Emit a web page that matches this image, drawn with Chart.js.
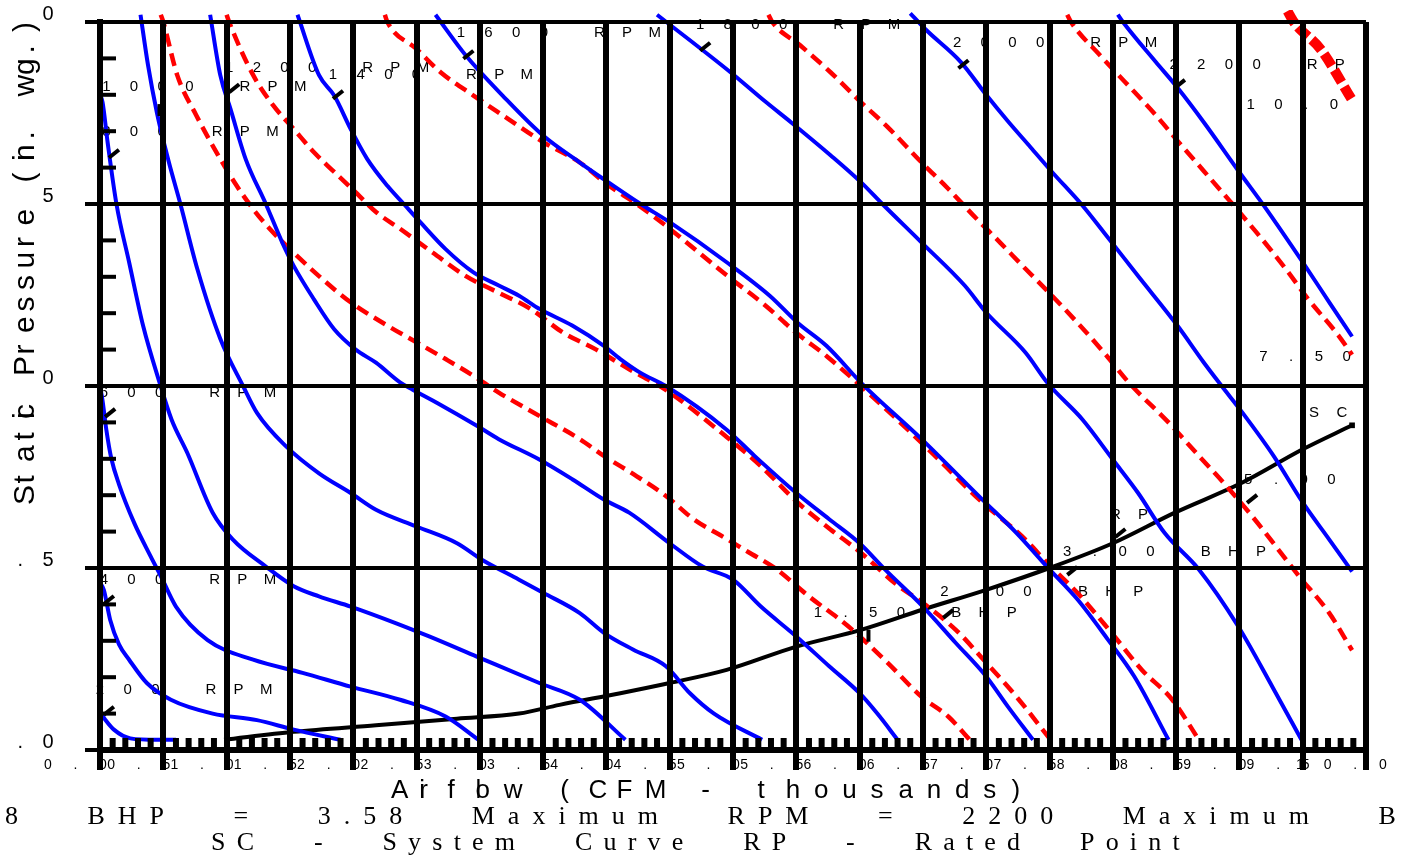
<!DOCTYPE html>
<html>
<head>
<meta charset="utf-8">
<script src="https://cdn.jsdelivr.net/npm/chart.js"></script>
<style>
  html, body { margin: 0; padding: 0; background: #fff; overflow: hidden; }
  #fanChart { display: block; }
</style>
</head>
<body>
<canvas id="fanChart" width="1404" height="856"></canvas>
<script>
// axis ticks (airflow in thousand CFM, static pressure in in. wg.)
const xTickValues = [0, 0.5, 1, 1.5, 2, 2.5, 3, 3.5, 4, 4.5, 5, 5.5, 6, 6.5, 7, 7.5, 8, 8.5, 9, 9.5, 10];
const xTickLabels = ["0.0", "0.5", "1.0", "1.5", "2.0", "2.5", "3.0", "3.5", "4.0", "4.5", "5.0",
  "5.5", "6.0", "6.5", "7.0", "7.5", "8.0", "8.5", "9.0", "9.5", "10.0"];
const yTickValues = [0, 2.5, 5, 7.5, 10];
const yTickLabels = ["0.0", "2.5", "5.0", "7.5", "10.0"];

// fan curves, [cfm (thousands), static pressure]
const rpm200 = [[0, 0.52], [0.04, 0.42], [0.11, 0.28], [0.24, 0.16], [0.45, 0.14], [0.6, 0.14]];
const rpm400 = [[0, 2.3], [0.03, 2.2], [0.08, 1.79], [0.15, 1.45], [0.23, 1.24], [0.37, 0.92], [0.56, 0.69],
  [0.89, 0.5], [1.24, 0.41], [1.53, 0.28], [1.9, 0.14]];
const rpm600 = [[0, 5.0], [0.02, 4.8], [0.05, 4.4], [0.09, 4.0], [0.15, 3.65], [0.27, 3.12], [0.4, 2.66],
  [0.48, 2.39], [0.6, 1.97], [0.85, 1.51], [1.21, 1.24], [1.6, 1.06], [1.98, 0.87], [2.37, 0.69], [2.73, 0.46],
  [2.99, 0.14]];
const rpm800 = [[0, 9.0], [0.02, 8.9], [0.06, 8.35], [0.13, 7.5], [0.23, 6.7], [0.34, 5.83], [0.47, 5.05],
  [0.565, 4.54], [0.69, 4.08], [0.89, 3.26], [1.05, 2.89], [1.31, 2.52], [1.53, 2.25], [1.73, 2.11],
  [1.98, 1.97], [2.34, 1.74], [2.6, 1.56], [2.98, 1.28], [3.47, 0.92], [3.79, 0.69], [4.15, 0.14]];
const rpm1000 = [[0.32, 10.1], [0.38, 9.4], [0.45, 8.75], [0.54, 8.1], [0.635, 7.5], [0.77, 6.6], [0.95, 5.65],
  [1.13, 5.0], [1.24, 4.63], [1.47, 4.17], [1.73, 3.8], [1.98, 3.53], [2.18, 3.3], [2.5, 3.07], [2.82, 2.84],
  [3.02, 2.61], [3.31, 2.34], [3.5, 2.16], [3.79, 1.88], [3.98, 1.61], [4.21, 1.38], [4.47, 1.15],
  [4.66, 0.78], [4.85, 0.5], [5.23, 0.14]];
const rpm1200 = [[0.87, 10.1], [0.95, 9.27], [1.03, 8.81], [1.15, 8.12], [1.31, 7.5], [1.44, 6.97], [1.53, 6.65],
  [1.69, 6.19], [1.85, 5.78], [2.02, 5.5], [2.18, 5.32], [2.37, 5.05], [2.47, 4.95], [2.66, 4.77], [2.98, 4.45],
  [3.15, 4.27], [3.47, 3.99], [3.73, 3.72], [3.98, 3.44], [4.18, 3.26], [4.5, 2.84], [4.76, 2.52], [5.0, 2.34],
  [5.22, 1.97], [5.5, 1.56], [5.76, 1.15], [6.0, 0.78], [6.14, 0.5], [6.3, 0.14]];
const rpm1400 = [[1.56, 10.1], [1.73, 9.27], [1.85, 8.99], [1.98, 8.53], [2.11, 8.12], [2.27, 7.75], [2.4, 7.5],
  [2.53, 7.25], [2.73, 6.88], [2.95, 6.56], [3.15, 6.38], [3.31, 6.24], [3.47, 6.06], [3.73, 5.83], [3.98, 5.55],
  [4.11, 5.37], [4.27, 5.18], [4.47, 5.0], [4.95, 4.4], [5.17, 4.04], [5.5, 3.53], [5.76, 3.17], [6.0, 2.84],
  [6.2, 2.48], [6.5, 1.97], [6.76, 1.47], [7.0, 1.01], [7.17, 0.6], [7.37, 0.14]];
const rpm1600 = [[2.65, 10.1], [2.89, 9.54], [3.18, 8.99], [3.5, 8.44], [3.79, 8.07], [3.98, 7.84], [4.27, 7.5],
  [4.5, 7.25], [4.95, 6.7], [5.29, 6.24], [5.51, 5.87], [5.74, 5.55], [6.02, 5.03], [6.49, 4.27], [6.97, 3.44],
  [7.24, 2.98], [7.5, 2.48], [7.72, 2.07], [7.96, 1.52], [8.17, 1.01], [8.44, 0.14]];
const rpm1800 = [[4.4, 10.1], [4.98, 9.31], [5.26, 8.9], [5.46, 8.62], [5.77, 8.17], [6.01, 7.8], [6.18, 7.5],
  [6.49, 6.97], [6.83, 6.38], [7.0, 6.01], [7.31, 5.46], [7.49, 5.03], [7.76, 4.54], [8.0, 3.99], [8.2, 3.53],
  [8.41, 2.98], [8.68, 2.48], [8.99, 1.7], [9.26, 0.87], [9.49, 0.14]];
const rpm2000 = [[6.4, 10.12], [6.52, 9.9], [6.8, 9.45], [7.0, 9.0], [7.17, 8.64], [7.35, 8.28], [7.52, 7.94],
  [7.76, 7.48], [7.93, 7.11], [8.2, 6.51], [8.51, 5.83], [8.72, 5.32], [8.86, 5.0], [9.03, 4.62], [9.27, 4.04],
  [9.5, 3.4], [9.71, 2.89], [9.89, 2.45]];
const rpm2200 = [[8.04, 10.1], [8.08, 10.0], [8.34, 9.45], [8.51, 9.1], [8.72, 8.62], [8.99, 7.96], [9.2, 7.46],
  [9.5, 6.7], [9.71, 6.15], [9.89, 5.68]];

// brake horsepower curves
const bhp150 = [[0.48, 10.1], [0.5, 10.0], [0.61, 9.27], [0.76, 8.72], [0.95, 8.12], [1.08, 7.75], [1.21, 7.43],
  [1.34, 7.16], [1.5, 6.88], [1.73, 6.51], [1.98, 6.15], [2.27, 5.83], [2.5, 5.6], [2.73, 5.37], [2.95, 5.14],
  [3.15, 4.91], [3.47, 4.59], [3.79, 4.27], [3.98, 4.04], [4.24, 3.76], [4.47, 3.49], [4.69, 3.17], [4.95, 2.9],
  [5.12, 2.72], [5.33, 2.5], [5.6, 2.11], [5.91, 1.7], [6.22, 1.2], [6.49, 0.73], [6.7, 0.46], [6.87, 0.14]];
const bhp200 = [[1.0, 10.1], [1.02, 10.0], [1.21, 9.27], [1.37, 8.85], [1.53, 8.53], [1.69, 8.21], [1.85, 7.94],
  [2.02, 7.66], [2.18, 7.39], [2.37, 7.16], [2.63, 6.83], [2.89, 6.51], [3.15, 6.28], [3.4, 6.06], [3.66, 5.73],
  [3.92, 5.5], [4.18, 5.23], [4.37, 5.05], [4.5, 4.91], [4.95, 4.3], [5.22, 3.9], [5.51, 3.4], [5.77, 3.03],
  [6.01, 2.71], [6.28, 2.29], [6.5, 2.02], [6.76, 1.65], [7.0, 1.2], [7.24, 0.73], [7.5, 0.16]];
const bhp300 = [[2.25, 10.1], [2.27, 10.0], [2.5, 9.63], [2.69, 9.31], [2.95, 8.99], [3.18, 8.72], [3.5, 8.35],
  [3.79, 8.07], [4.02, 7.75], [4.24, 7.5], [4.5, 7.16], [4.95, 6.52], [5.26, 6.1], [5.5, 5.73], [5.74, 5.41],
  [5.99, 5.03], [6.49, 4.22], [6.97, 3.4], [7.28, 2.94], [7.51, 2.52], [7.72, 2.16], [7.99, 1.61], [8.23, 1.1],
  [8.47, 0.69], [8.68, 0.14]];
const bhp500 = [[5.28, 10.1], [5.31, 10.0], [5.53, 9.68], [5.77, 9.31], [6.01, 8.9], [6.22, 8.56], [6.49, 8.07],
  [6.7, 7.71], [6.9, 7.34], [7.11, 6.97], [7.31, 6.61], [7.52, 6.24], [7.72, 5.87], [7.93, 5.46], [8.13, 5.04],
  [8.44, 4.5], [8.68, 4.04], [8.88, 3.66], [9.12, 3.17], [9.47, 2.39], [9.71, 1.88], [9.89, 1.37]];
const bhp750 = [[7.64, 10.1], [7.67, 10.0], [7.89, 9.56], [8.1, 9.17], [8.34, 8.72], [8.51, 8.37], [8.72, 7.95],
  [8.92, 7.55], [9.13, 7.12], [9.37, 6.6], [9.54, 6.2], [9.78, 5.7], [9.89, 5.43]];
const bhp1000 = [[9.38, 10.15], [9.43, 10.0], [9.64, 9.63], [9.89, 8.93]];

// system curve
const systemCurve = [[0.98, 0.14], [1.53, 0.25], [2.18, 0.34], [2.82, 0.43], [3.31, 0.5], [3.63, 0.62],
  [4.11, 0.78], [4.5, 0.92], [4.95, 1.1], [5.5, 1.42], [6.01, 1.65], [6.5, 1.93], [7.0, 2.2], [7.5, 2.5],
  [8.0, 2.84], [8.49, 3.26], [9.02, 3.67], [9.5, 4.13], [9.89, 4.46]];

// curve annotations, anchored in data units
const curveLabels = ["200 RPM", "400 RPM", "600 RPM", "800 RPM", "1000 RPM", "1200 RPM", "1400 RPM",
  "1600 RPM", "1800 RPM", "2000 RPM", "2200 RPM", "1.50 BHP", "2.00 BHP", "3.00 BHP", "5.00 BHP",
  "7.50 BHP", "10.00 BHP", "SC", "RP"];
const labelAnchors = [[0.0, 0.82], [0.03, 2.34], [0.03, 4.9], [0.05, 8.49], [0.05, 9.11], [1.02, 9.37],
  [1.84, 9.27], [2.85, 9.85], [4.74, 9.96], [6.77, 9.71], [8.48, 9.41], [5.67, 1.88], [6.67, 2.17],
  [7.64, 2.72], [9.07, 3.71], [9.19, 5.4], [9.09, 8.86], [9.59, 4.63], [8.02, 3.23]];
const slashMarks = [[0.11, 8.19], [1.06, 9.09], [1.88, 9.0], [2.91, 9.55], [4.78, 9.66], [6.82, 9.42],
  [8.53, 9.15], [0.08, 4.63], [0.07, 2.06], [0.07, 0.54], [6.7, 1.87], [7.68, 2.46], [9.1, 3.45], [8.06, 2.98]];
const barMarks = [[0.47, 8.79], [6.07, 1.57]];

const xTitle = "Airflow (CFM - thousands)";
const yTitle = "Static Pressure (in. wg.)";
const footer1 = "8 BHP = 3.58 Maximum RPM = 2200 Maximum B";
const footer2 = "SC - System Curve RP - Rated Point";

const BLUE = "#0000ff";
const RED = "#ff0000";
const SANS = '"Liberation Sans", Arial, sans-serif';
const SERIF = '"Liberation Serif", "Times New Roman", serif';

function fanLine(name, data, color, width, dash) {
  return {
    label: name, data: data, borderColor: color, borderWidth: width,
    borderDash: dash || [], cubicInterpolationMode: "monotone", pointRadius: 0, fill: false,
    clip: { left: 0, top: 12, right: 0, bottom: 0 }
  };
}

// letters on a fixed pitch; i and l take no slot of their own
function pitchText(ctx, text, left, y, pitch) {
  let px = left;
  for (const ch of text) {
    ctx.fillText(ch, px, y);
    if (ch !== "i" && ch !== "l") px += pitch;
  }
}

function spacedText(ctx, text, left, y, ls, ws) {
  let px = left;
  for (const ch of text) {
    ctx.fillText(ch, px, y);
    px += ctx.measureText(ch).width + ls + (ch === " " ? ws : 0);
  }
}

const fanText = {
  id: "fanText",
  beforeDatasetsDraw(chart) {
    const { ctx, scales: { x, y } } = chart;
    ctx.save();
    ctx.fillStyle = "#000";
    ctx.textAlign = "center";
    ctx.textBaseline = "middle";

    // x tick labels
    ctx.font = "14px " + SANS;
    xTickValues.forEach((v, i) => {
      const s = xTickLabels[i];
      const c = x.getPixelForValue(v) - 24.6;
      for (let k = 0; k < s.length; k++) {
        ctx.fillText(s[k], c + (k - (s.length - 1) / 2) * 27.6, 765);
      }
    });

    // y tick labels
    ctx.font = "20px " + SANS;
    yTickValues.forEach((v, i) => {
      const s = yTickLabels[i];
      const py = y.getPixelForValue(v) - 8;
      for (let k = 0; k < s.length; k++) {
        ctx.fillText(s[k], 48 - (s.length - 1 - k) * 27.6, py);
      }
    });

    // y title on white
    ctx.fillStyle = "#fff";
    ctx.fillRect(4, 2, 37, 510);
    ctx.fillStyle = "#000";
    ctx.save();
    ctx.translate(34, 505);
    ctx.rotate(-Math.PI / 2);
    ctx.textAlign = "left";
    ctx.textBaseline = "alphabetic";
    ctx.font = "30px " + SANS;
    pitchText(ctx, yTitle, 0, 0, 21.5);
    ctx.restore();

    // x title
    ctx.textAlign = "left";
    ctx.font = "26px " + SANS;
    pitchText(ctx, xTitle, 391, 791, 28.2);

    // footer
    ctx.font = "26px " + SERIF;
    spacedText(ctx, footer1, 5, 817, 13, 37);
    spacedText(ctx, footer2, 211, 843, 11.2, 31);

    // curve labels
    ctx.beginPath();
    ctx.rect(0, 0, 1355, 856);
    ctx.clip();
    ctx.textAlign = "center";
    ctx.font = "15px " + SANS;
    curveLabels.forEach((s, i) => {
      const cx = x.getPixelForValue(labelAnchors[i][0]);
      const cy = y.getPixelForValue(labelAnchors[i][1]);
      for (let k = 0; k < s.length; k++) ctx.fillText(s[k], cx + k * 27.7, cy);
    });
    ctx.restore();
  },
  afterDatasetsDraw(chart) {
    const { ctx, scales: { x, y } } = chart;
    ctx.save();
    ctx.strokeStyle = "#000";
    ctx.lineWidth = 4;
    ctx.lineCap = "butt";
    slashMarks.forEach(([vx, vy]) => {
      const px = x.getPixelForValue(vx), py = y.getPixelForValue(vy);
      ctx.beginPath();
      ctx.moveTo(px - 5, py + 4);
      ctx.lineTo(px + 5, py - 4);
      ctx.stroke();
    });
    barMarks.forEach(([vx, vy]) => {
      const px = x.getPixelForValue(vx), py = y.getPixelForValue(vy);
      ctx.beginPath();
      ctx.moveTo(px, py - 6);
      ctx.lineTo(px, py + 6);
      ctx.stroke();
    });
    ctx.restore();
  },
  afterDraw(chart) {
    const { ctx, chartArea, scales: { x, y } } = chart;
    ctx.save();
    ctx.fillStyle = "#000";
    // minor ticks every 0.1 thousand CFM and every 0.5 in. wg.
    for (let k = 1; k < 100; k++) {
      if (k % 5 === 0) continue;
      const px = x.getPixelForValue(k / 10);
      ctx.fillRect(px - 3, chartArea.bottom - 12, 6, 12);
    }
    for (let k = 1; k < 20; k++) {
      if (k % 5 === 0) continue;
      const py = y.getPixelForValue(k / 2);
      ctx.fillRect(chartArea.left, py - 2, 16, 4);
    }
    ctx.restore();
  }
};

const dash = [13, 7];
const datasets = [
  fanLine("200 RPM", rpm200, BLUE, 4),
  fanLine("400 RPM", rpm400, BLUE, 4),
  fanLine("600 RPM", rpm600, BLUE, 4),
  fanLine("800 RPM", rpm800, BLUE, 4),
  fanLine("1000 RPM", rpm1000, BLUE, 4),
  fanLine("1200 RPM", rpm1200, BLUE, 4),
  fanLine("1400 RPM", rpm1400, BLUE, 4),
  fanLine("1600 RPM", rpm1600, BLUE, 4),
  fanLine("1800 RPM", rpm1800, BLUE, 4),
  fanLine("2000 RPM", rpm2000, BLUE, 4),
  fanLine("2200 RPM", rpm2200, BLUE, 4),
  fanLine("1.50 BHP", bhp150, RED, 4.5, dash),
  fanLine("2.00 BHP", bhp200, RED, 4.5, dash),
  fanLine("3.00 BHP", bhp300, RED, 4.5, dash),
  fanLine("5.00 BHP", bhp500, RED, 4.5, dash),
  fanLine("7.50 BHP", bhp750, RED, 4.5, dash),
  fanLine("10.00 BHP", bhp1000, RED, 10, [14, 5]),
  Object.assign(fanLine("SC", systemCurve, "#000", 4), {
    pointStyle: "rect",
    pointBackgroundColor: "#000",
    pointBorderWidth: 0,
    pointRadius: (c) => (c.dataIndex === systemCurve.length - 1 ? 4 : 0)
  })
];

new Chart(document.getElementById("fanChart").getContext("2d"), {
  type: "scatter",
  data: { datasets: datasets },
  options: {
    responsive: false,
    animation: false,
    devicePixelRatio: 1,
    showLine: true,
    layout: { padding: { left: 85, right: 38, top: 22, bottom: 86 } },
    plugins: { legend: { display: false }, tooltip: { enabled: false } },
    scales: {
      x: {
        type: "linear", min: 0, max: 10, z: 1,
        ticks: { display: false, stepSize: 0.5 },
        grid: { color: "#000", lineWidth: 6, tickLength: 20, drawTicks: true, z: 1 },
        border: { display: true, color: "#000", width: 6, z: 1 }
      },
      y: {
        type: "linear", min: 0, max: 10, z: 1,
        ticks: { display: false, stepSize: 2.5 },
        grid: { color: "#000", lineWidth: 4, tickLength: 15, drawTicks: true, z: 1 },
        border: { display: true, color: "#000", width: 6, z: 1 }
      }
    }
  },
  plugins: [fanText]
});
</script>
</body>
</html>
